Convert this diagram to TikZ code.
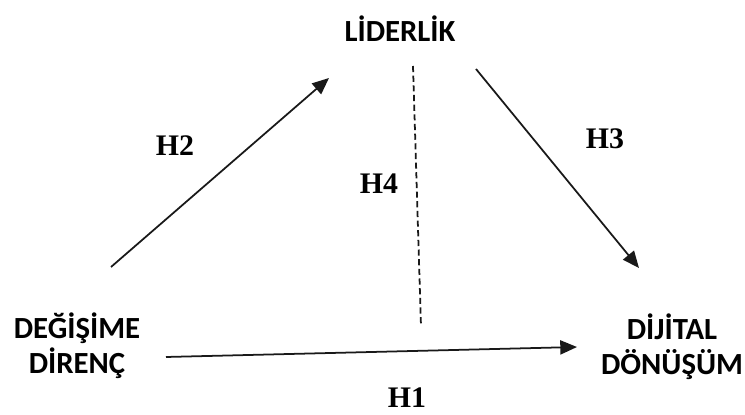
\documentclass[tikz,border=0pt]{standalone}
\usepackage{fontspec}
\setmainfont{Liberation Serif}
\newfontfamily\labelfont{Carlito}
\usetikzlibrary{arrows.meta,positioning}
\tikzset{
  concept/.style={font=\labelfont\bfseries\fontsize{17.5}{21}\selectfont, align=center, inner sep=0pt},
  hyp/.style={font=\bfseries\fontsize{17}{20}\selectfont, inner sep=0pt},
  link/.style={-{Triangle[length=9.5pt,width=8pt]}, line width=1pt, black!90}
}
\begin{document}
\begin{tikzpicture}[x=0.02cm, y=-0.02cm]
      \useasboundingbox (0,0) rectangle (745,415);
      \node[concept] (lider) at (400,29) {LİDERLİK};
      \node[concept] (direnc) at (77,346) {DEĞİŞİME\\[-1pt]DİRENÇ};
      \node[concept] (dijital) at (672,347) {DİJİTAL\\[-1pt]DÖNÜŞÜM};
      \coordinate (h2s) at (111,267);
      \coordinate (h2e) at (329,78);
      \coordinate (h3s) at (476,69);
      \coordinate (h3e) at (639,268);
      \coordinate (h1s) at (166,357);
      \coordinate (h1e) at (577,347);
      \coordinate (h4s) at (413,66);
      \coordinate (h4e) at (421,326);
      \draw[link] (h2s) -- (h2e);
      \draw[link] (h3s) -- (h3e);
      \draw[link] (h1s) -- (h1e);
      \draw[line width=1pt, black!90, dash pattern=on 3.5pt off 2pt] (h4s) -- (h4e);
      \node[hyp] (lh2) at (175,146) {H2};
      \node[hyp] (lh4) at (379,184) {H4};
      \node[hyp] (lh3) at (605,139) {H3};
      \node[hyp] (lh1) at (407,398) {H1};
    \end{tikzpicture}
\end{document}
